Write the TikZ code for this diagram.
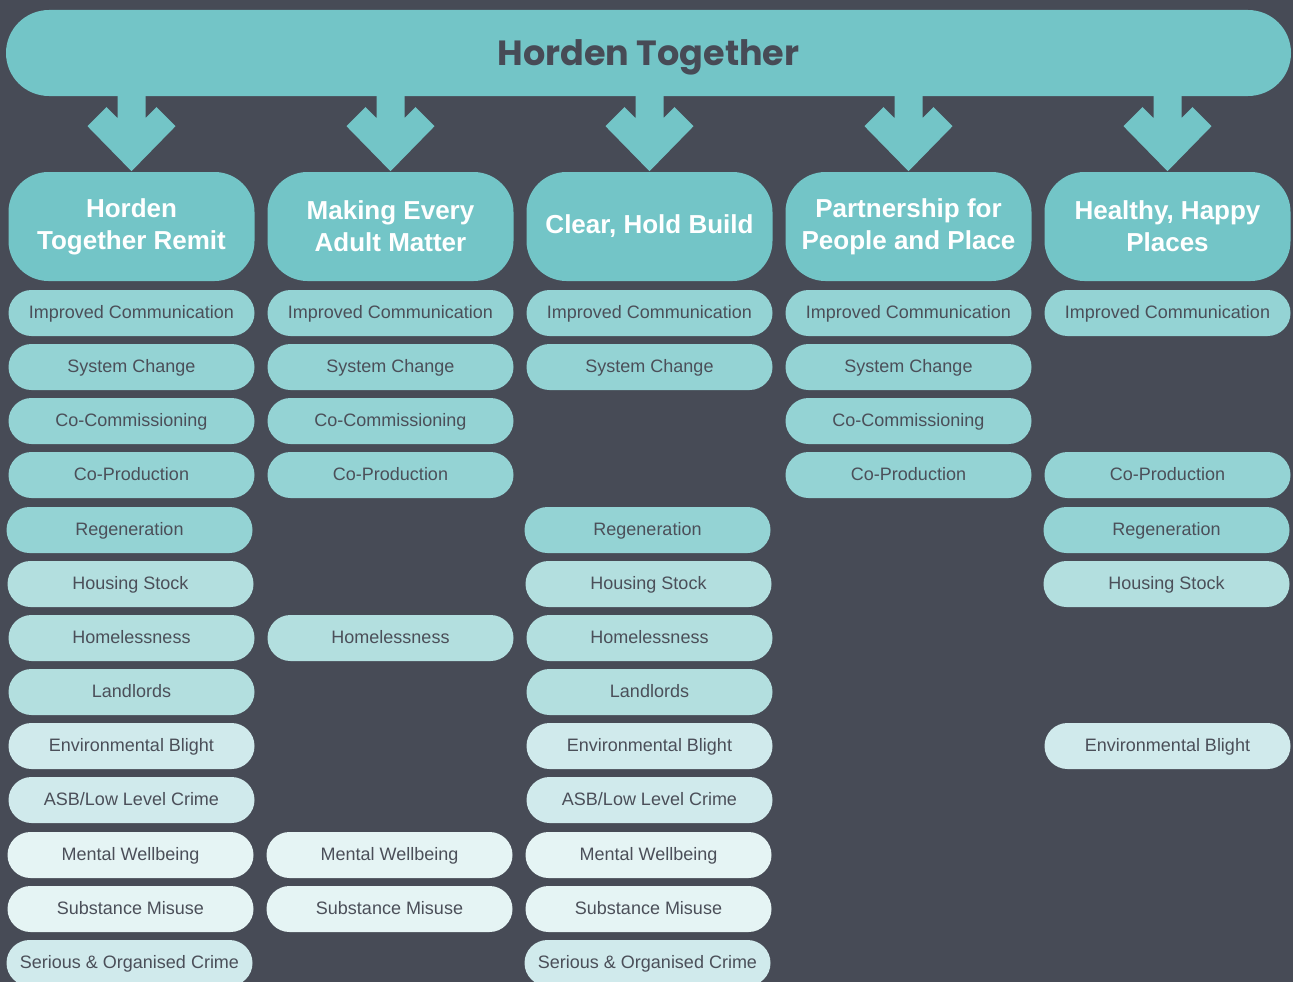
\documentclass[tikz,border=0pt]{standalone}
\usepackage{fontspec}
\setmainfont{Liberation Sans}
\newfontfamily\titlefont{Poppins}
\usetikzlibrary{positioning,calc}

\definecolor{bg}{HTML}{474B56}
\definecolor{hdr}{HTML}{73C5C7}
\definecolor{rowA}{HTML}{94D3D4}
\definecolor{rowB}{HTML}{B3DFDF}
\definecolor{rowC}{HTML}{D0EAEC}
\definecolor{rowD}{HTML}{E5F4F4}
\definecolor{txt}{HTML}{4B4F59}

% Fat arrow from the top bar down to one of the five headings
\newcommand{\headarrow}[1]{%
  \fill[hdr] ($(HT.south -| #1.north)+(-14,-4)$) -- ++(0,26) -- ++(-11,-11)
    -- ++(-19,19) -- ++(44,45) -- ++(44,-45) -- ++(-19,-19) -- ++(-11,11)
    -- ++(0,-26) -- cycle;}

\begin{document}
\begin{tikzpicture}[x=1pt,y=-1pt,
    topbar/.style={fill=hdr, rounded corners=43pt, minimum width=1285pt,
      minimum height=86pt, inner sep=0pt, text=bg,
      text height=26pt, text depth=0pt,
      font=\titlefont\bfseries\fontsize{35}{40}\selectfont},
    cat/.style={fill=hdr, rounded corners=40pt, minimum width=246pt,
      minimum height=109pt, inner sep=0pt, text=white, align=center,
      font=\bfseries\fontsize{26}{32}\selectfont},
    item/.style={rounded corners=23pt, minimum width=246pt,
      minimum height=46pt, inner sep=0pt, text=txt,
      text height=13pt, text depth=3pt,
      font=\fontsize{18}{22}\selectfont}]

    % page and background
    \useasboundingbox (0,0) rectangle (1293,982);
    \clip (0,0) rectangle (1293,982);
    \fill[bg] (0,0) rectangle (1293,982);

    \node[topbar] (HT) at (648.5,53) {Horden Together};

    % the five headings
    \node[cat] (C1) at (131.5,226.5) {Horden\\Together Remit};
    \node[cat] (C2) at (390.5,226.5) {Making Every\\Adult Matter};
    \node[cat] (C3) at (649.5,226.5) {Clear, Hold Build};
    \node[cat] (C4) at (908.5,226.5) {Partnership for\\People and Place};
    \node[cat] (C5) at (1167.5,226.5) {Healthy, Happy\\Places};

    \headarrow{C1}
    \headarrow{C2}
    \headarrow{C3}
    \headarrow{C4}
    \headarrow{C5}

    % column 1
    \node[item,fill=rowA] (L1-1) at (131.5,313) {Improved Communication};
    \node[item,fill=rowA] (L1-2) at (131.5,367) {System Change};
    \node[item,fill=rowA] (L1-3) at (131.5,421) {Co-Commissioning};
    \node[item,fill=rowA] (L1-4) at (131.5,475) {Co-Production};
    \node[item,fill=rowA] (L1-5) at (129.5,530) {Regeneration};
    \node[item,fill=rowB] (L1-6) at (130.5,584) {Housing Stock};
    \node[item,fill=rowB] (L1-7) at (131.5,638) {Homelessness};
    \node[item,fill=rowB] (L1-8) at (131.5,692) {Landlords};
    \node[item,fill=rowC] (L1-9) at (131.5,746) {Environmental Blight};
    \node[item,fill=rowC] (L1-10) at (131.5,800) {ASB/Low Level Crime};
    \node[item,fill=rowD] (L1-11) at (130.5,855) {Mental Wellbeing};
    \node[item,fill=rowD] (L1-12) at (130.5,909) {Substance Misuse};
    \node[item,fill=rowC] (L1-13) at (129.5,963) {Serious \& Organised Crime};

    % column 2
    \node[item,fill=rowA] (L2-1) at (390.5,313) {Improved Communication};
    \node[item,fill=rowA] (L2-2) at (390.5,367) {System Change};
    \node[item,fill=rowA] (L2-3) at (390.5,421) {Co-Commissioning};
    \node[item,fill=rowA] (L2-4) at (390.5,475) {Co-Production};
    \node[item,fill=rowB] (L2-7) at (390.5,638) {Homelessness};
    \node[item,fill=rowD] (L2-11) at (389.5,855) {Mental Wellbeing};
    \node[item,fill=rowD] (L2-12) at (389.5,909) {Substance Misuse};

    % column 3
    \node[item,fill=rowA] (L3-1) at (649.5,313) {Improved Communication};
    \node[item,fill=rowA] (L3-2) at (649.5,367) {System Change};
    \node[item,fill=rowA] (L3-5) at (647.5,530) {Regeneration};
    \node[item,fill=rowB] (L3-6) at (648.5,584) {Housing Stock};
    \node[item,fill=rowB] (L3-7) at (649.5,638) {Homelessness};
    \node[item,fill=rowB] (L3-8) at (649.5,692) {Landlords};
    \node[item,fill=rowC] (L3-9) at (649.5,746) {Environmental Blight};
    \node[item,fill=rowC] (L3-10) at (649.5,800) {ASB/Low Level Crime};
    \node[item,fill=rowD] (L3-11) at (648.5,855) {Mental Wellbeing};
    \node[item,fill=rowD] (L3-12) at (648.5,909) {Substance Misuse};
    \node[item,fill=rowC] (L3-13) at (647.5,963) {Serious \& Organised Crime};

    % column 4
    \node[item,fill=rowA] (L4-1) at (908.5,313) {Improved Communication};
    \node[item,fill=rowA] (L4-2) at (908.5,367) {System Change};
    \node[item,fill=rowA] (L4-3) at (908.5,421) {Co-Commissioning};
    \node[item,fill=rowA] (L4-4) at (908.5,475) {Co-Production};

    % column 5
    \node[item,fill=rowA] (L5-1) at (1167.5,313) {Improved Communication};
    \node[item,fill=rowA] (L5-4) at (1167.5,475) {Co-Production};
    \node[item,fill=rowA] (L5-5) at (1166.5,530) {Regeneration};
    \node[item,fill=rowB] (L5-6) at (1166.5,584) {Housing Stock};
    \node[item,fill=rowC] (L5-9) at (1167.5,746) {Environmental Blight};

\end{tikzpicture}
\end{document}
